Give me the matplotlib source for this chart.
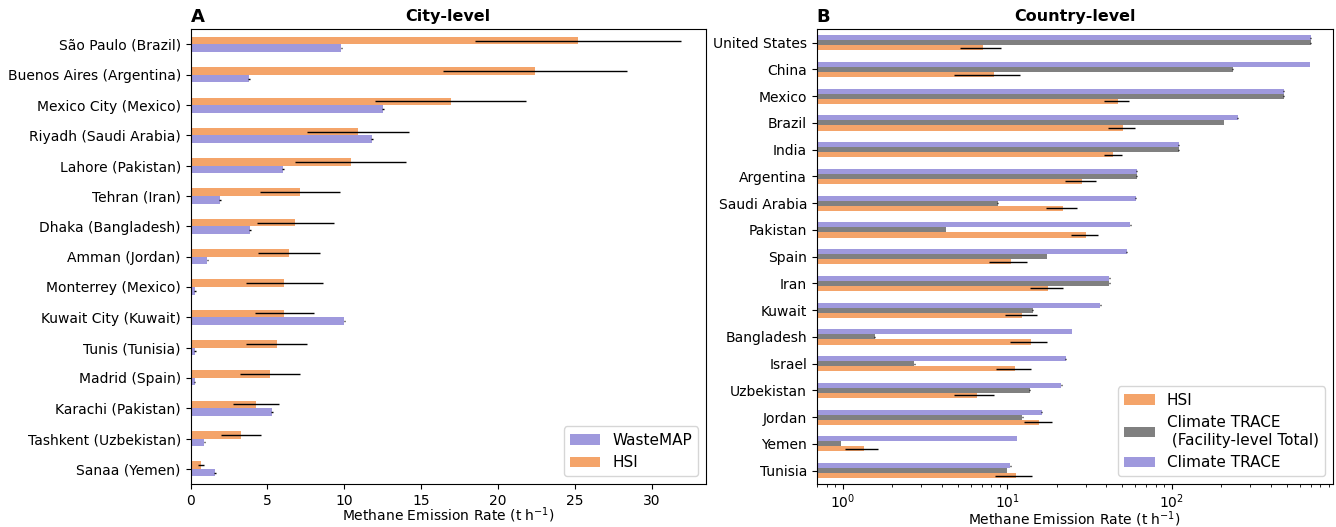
import numpy as np
import matplotlib
matplotlib.use("Agg")
import matplotlib.pyplot as plt

# ---- City-level data (top to bottom) ----
cities = ["São Paulo (Brazil)", "Buenos Aires (Argentina)", "Mexico City (Mexico)",
          "Riyadh (Saudi Arabia)", "Lahore (Pakistan)", "Tehran (Iran)",
          "Dhaka (Bangladesh)", "Amman (Jordan)", "Monterrey (Mexico)",
          "Kuwait City (Kuwait)", "Tunis (Tunisia)", "Madrid (Spain)",
          "Karachi (Pakistan)", "Tashkent (Uzbekistan)", "Sanaa (Yemen)"]
city_hsi = [25.2, 22.4, 16.9, 10.9, 10.4, 7.1, 6.8, 6.4, 6.1, 6.1, 5.6, 5.15, 4.25, 3.25, 0.66]
city_hsi_err = [6.7, 6.0, 4.9, 3.3, 3.6, 2.6, 2.5, 2.0, 2.5, 1.9, 2.0, 1.95, 1.5, 1.3, 0.2]
city_wastemap = [9.8, 3.8, 12.5, 11.8, 6.0, 1.9, 3.85, 1.1, 0.3, 10.0, 0.3, 0.26, 5.3, 0.9, 1.6]
city_wastemap_err = [0.05] * 15

# ---- Country-level data (top to bottom) ----
countries = ["United States", "China", "Mexico", "Brazil", "India", "Argentina",
             "Saudi Arabia", "Pakistan", "Spain", "Iran", "Kuwait", "Bangladesh",
             "Israel", "Uzbekistan", "Jordan", "Yemen", "Tunisia"]
ctry_hsi = [7.14, 8.38, 46.9, 50.8, 44.3, 28.7, 22.0, 30.0, 10.55, 17.8, 12.4, 14.0,
            11.2, 6.56, 15.7, 1.34, 11.3]
ctry_hsi_err = [2.0, 3.6, 7.9, 9.5, 5.4, 6.1, 4.65, 5.6, 2.75, 4.0, 2.7, 3.6,
                2.7, 1.8, 2.95, 0.31, 2.85]
ctry_facility = [702, 235.6, 481, 208.4, 110.4, 61.3, 8.78, 4.25, 17.5, 41.9, 14.3, 1.57,
                 2.73, 13.7, 12.4, 0.976, 10.0]
ctry_trace = [702, 695, 481, 252.6, 110.4, 61.3, 60.4, 56.1, 53.2, 41.9, 36.9, 24.8,
              22.7, 21.4, 16.2, 11.5, 10.45]

c_orange = "#F4A46A"
c_purple = "#9F99DD"
c_grey = "#808080"

fig = plt.figure(figsize=(13.36, 5.27), dpi=100)
axA = fig.add_axes([0.1426, 0.0816, 0.3858, 0.8628])
axB = fig.add_axes([0.6114, 0.0816, 0.3861, 0.8628])

# ---- Panel A ----
n = len(cities)
y = np.arange(n)
h = 0.25
axA.barh(y + h / 2, city_wastemap, height=h, color=c_purple, label="WasteMAP",
         xerr=city_wastemap_err, error_kw=dict(ecolor="black", elinewidth=1))
axA.barh(y - h / 2, city_hsi, height=h, color=c_orange, label="HSI",
         xerr=city_hsi_err, error_kw=dict(ecolor="black", elinewidth=1))
axA.set_yticks(y)
axA.set_yticklabels(cities, fontsize=10)
axA.set_ylim(n - 0.5, -0.5)
axA.set_xlim(0, 33.5)
axA.set_xticks([0, 5, 10, 15, 20, 25, 30])
axA.tick_params(axis="x", labelsize=10)
axA.set_xlabel("Methane Emission Rate (t h$^{-1}$)", fontsize=10, labelpad=-1.5)
axA.set_title("City-level", fontsize=11.5, fontweight="bold", pad=6)
axA.text(0.0, 1.008, "A", transform=axA.transAxes, fontsize=13, fontweight="bold",
         ha="left", va="bottom")
hdl, lab = axA.get_legend_handles_labels()
axA.legend(hdl, lab, loc="lower right", fontsize=11)

# ---- Panel B ----
m = len(countries)
yb = np.arange(m)
hb = 0.19
axB.barh(yb - hb, ctry_trace, height=hb, color=c_purple, label="Climate TRACE",
         xerr=[v * 0.005 for v in ctry_trace], error_kw=dict(ecolor="black", elinewidth=1))
axB.barh(yb, ctry_facility, height=hb, color=c_grey,
         label="Climate TRACE\n (Facility-level Total)",
         xerr=[v * 0.005 for v in ctry_facility], error_kw=dict(ecolor="black", elinewidth=1))
axB.barh(yb + hb, ctry_hsi, height=hb, color=c_orange, label="HSI",
         xerr=ctry_hsi_err, error_kw=dict(ecolor="black", elinewidth=1))
axB.set_xscale("log")
axB.set_yticks(yb)
axB.set_yticklabels(countries, fontsize=10)
axB.set_ylim(m - 0.5, -0.5)
axB.set_xlim(0.697, 953)
axB.tick_params(axis="x", labelsize=10, pad=2.5)
axB.set_xlabel("Methane Emission Rate (t h$^{-1}$)", fontsize=10, labelpad=-1)
axB.set_title("Country-level", fontsize=11.5, fontweight="bold", pad=6)
axB.text(0.0, 1.008, "B", transform=axB.transAxes, fontsize=13, fontweight="bold",
         ha="left", va="bottom")
hdl, lab = axB.get_legend_handles_labels()
order = [2, 1, 0]
axB.legend([hdl[i] for i in order], [lab[i] for i in order], loc="lower right", fontsize=11)

fig.savefig("out.png", dpi=100)
